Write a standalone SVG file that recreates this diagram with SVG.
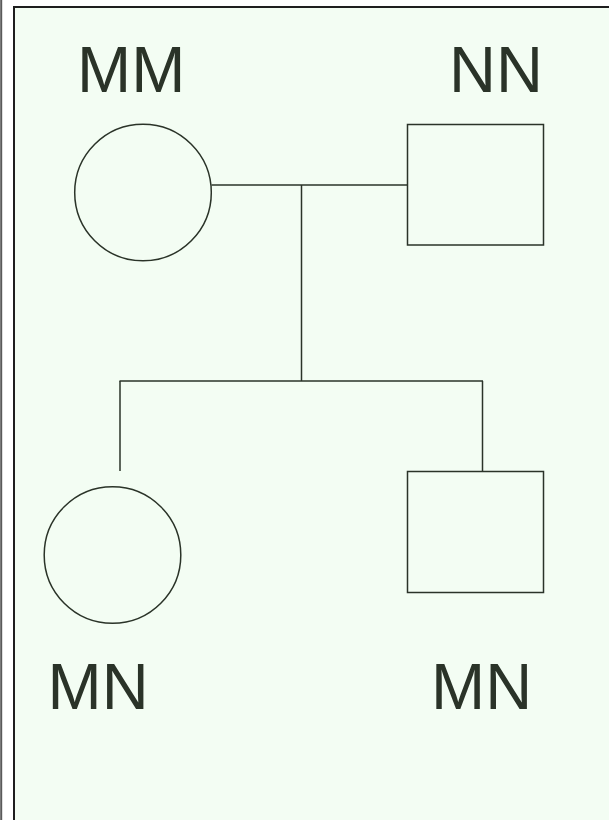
<svg xmlns="http://www.w3.org/2000/svg" width="609" height="820" viewBox="0 0 609 820">
<style>
.shape{fill:#f3fdf3;stroke:#2a3328;stroke-width:1.5}
.conn line{stroke:#2a3328;stroke-width:1.5}
.lbl{font-family:"Liberation Sans",Arial,sans-serif;font-size:65px;fill:#2a3328}
</style>
<rect x="0" y="0" width="609" height="820" fill="#ffffff"/>
<line x1="1.2" y1="0" x2="1.2" y2="820" stroke="#5a5a5a" stroke-width="2"/>
<rect x="14" y="7" width="640" height="860" fill="#f3fdf3" stroke="#1e1e1e" stroke-width="2"/>
<g id="connectors" class="conn">
<line x1="211.5" y1="185" x2="407" y2="185"/>
<line x1="301.5" y1="185" x2="301.5" y2="381"/>
<line x1="119.5" y1="381" x2="483" y2="381"/>
<line x1="120" y1="381" x2="120" y2="471"/>
<line x1="482.5" y1="381" x2="482.5" y2="471.5"/>
</g>
<g id="node-MM">
<circle class="shape" cx="143" cy="192.5" r="68.3"/>
<text class="lbl" x="77" y="92">MM</text>
</g>
<g id="node-NN">
<rect class="shape" x="407.5" y="124.5" width="136" height="120.5"/>
<text class="lbl" x="449" y="92">NN</text>
</g>
<g id="node-MN-left">
<circle class="shape" cx="112.5" cy="555" r="68.3"/>
<text class="lbl" x="47.5" y="709">MN</text>
</g>
<g id="node-MN-right">
<rect class="shape" x="407.5" y="471.5" width="136" height="121"/>
<text class="lbl" x="431" y="709">MN</text>
</g>
</svg>
